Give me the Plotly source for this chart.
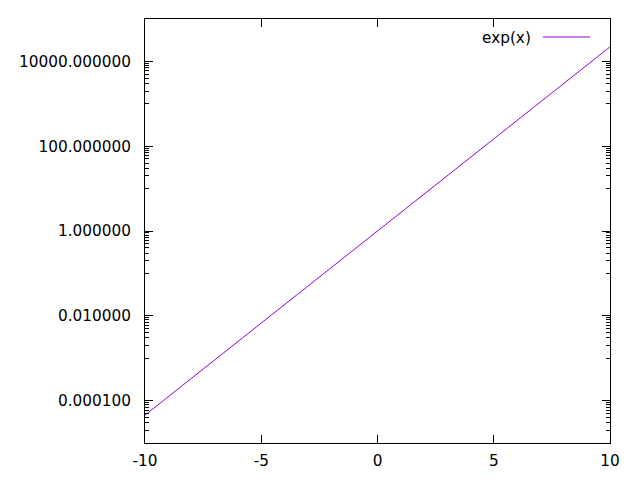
import plotly.graph_objects as go

# Data (exp(x) on a log y axis)
x_vals = [-10, -5, 0, 5, 10]
y_vals = [4.54e-5, 6.74e-3, 1.0, 148.4, 22026.0]
series_name = "exp(x)"

x_tick_vals = [-10, -5, 0, 5, 10]
x_tick_text = ["-10", "-5", "0", "5", "10"]
y_tick_vals = [1e-4, 1e-2, 1, 1e2, 1e4]
y_tick_text = ["0.000100", "0.010000", "1.000000", "100.000000", "10000.000000"]
y_minor_exponents = [-5, -3, -1, 1, 3]
y_minor_mults = [1, 2, 3, 4, 5, 6, 7, 8, 9]

minor_vals = [m * 10.0 ** e for e in y_minor_exponents for m in y_minor_mults]

LINE_COLOR = "#9400d3"
FONT = dict(family="DejaVu Sans", size=15.3, color="black")

fig = go.Figure()
fig.add_trace(go.Scatter(x=x_vals, y=y_vals, mode="lines", name=series_name,
                         line=dict(color=LINE_COLOR, width=1), showlegend=False))

fig.update_layout(
    width=640, height=480,
    margin=dict(l=145, r=30, t=19, b=37, pad=0, autoexpand=False),
    plot_bgcolor="white", paper_bgcolor="white",
    font=FONT,
    xaxis=dict(range=[-10, 10], tickvals=x_tick_vals, ticktext=x_tick_text,
               ticks="inside", ticklen=8, tickwidth=1, tickcolor="black",
               showline=True, linecolor="black", linewidth=1, mirror="allticks",
               showgrid=False, zeroline=False, tickfont=FONT, ticklabelstandoff=4,
               automargin=False),
    yaxis=dict(type="log", range=[-5, 5], tickvals=y_tick_vals, ticktext=y_tick_text,
               ticks="inside", ticklen=8, tickwidth=1, tickcolor="black",
               showline=True, linecolor="black", linewidth=1, mirror="allticks",
               showgrid=False, zeroline=False, tickfont=FONT, ticklabelstandoff=10,
               automargin=False,
               minor=dict(tickvals=minor_vals, ticks="inside", ticklen=4,
                          tickwidth=1, tickcolor="black", showgrid=False)),
)

# gnuplot-style key: text on the left, line sample on the right
fig.add_annotation(x=(533 - 145) / 465, y=(443 - 38) / 424, xref="paper", yref="paper",
                   text=series_name, showarrow=False, xanchor="right", yanchor="middle",
                   font=FONT)
fig.add_shape(type="line", xref="paper", yref="paper",
              x0=(543 - 145) / 465, x1=(590 - 145) / 465,
              y0=(443 - 37) / 424, y1=(443 - 37) / 424,
              line=dict(color=LINE_COLOR, width=1))

fig.write_html("out.html", config={"displayModeBar": False},
               post_script="document.body.style.margin='0';document.body.style.overflow='hidden';")
